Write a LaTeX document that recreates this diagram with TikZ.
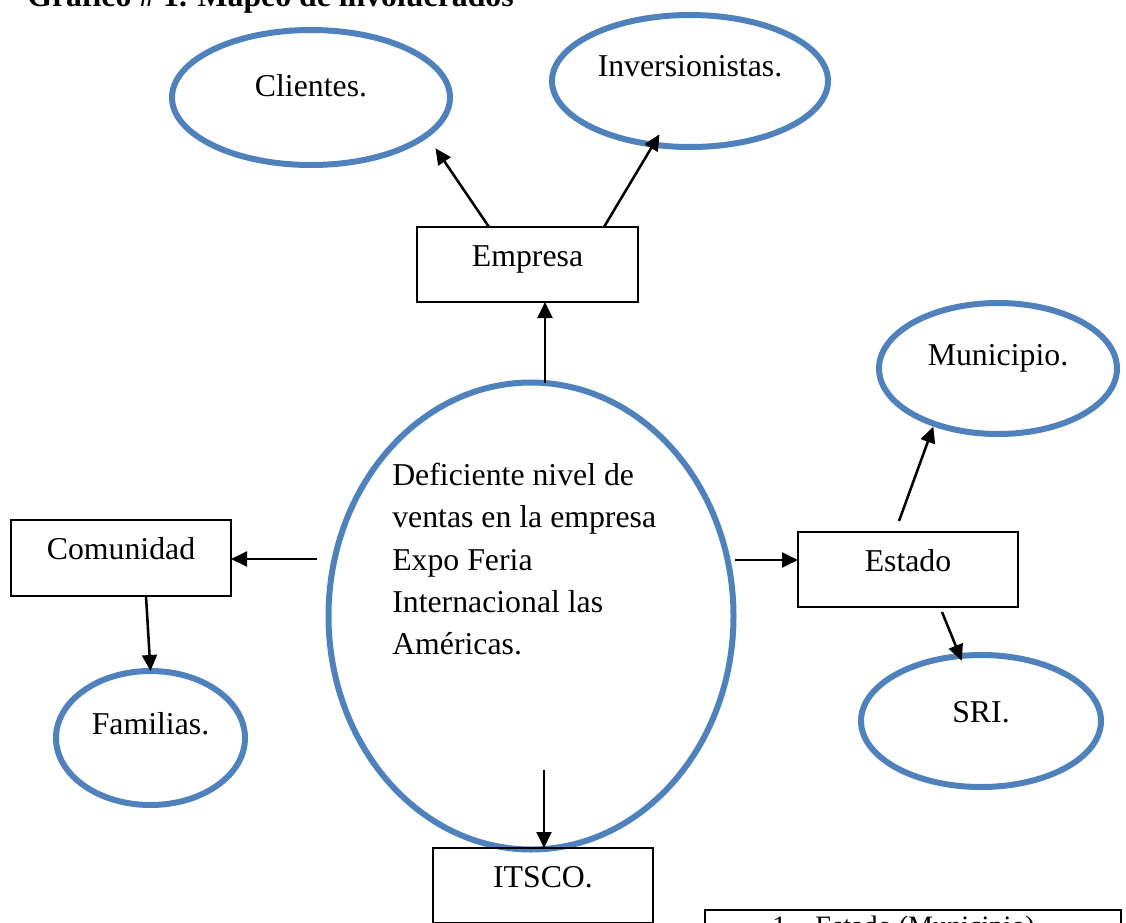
\documentclass[tikz,border=0pt]{standalone}
\usepackage{fontspec}
\setmainfont{Liberation Serif}
\usetikzlibrary{shapes.geometric}
\usetikzlibrary{arrows.meta}
\newlength\pxu
\setlength\pxu{0.025cm}
\definecolor{azul}{HTML}{4F81BD}
\tikzset{>={Triangle[length=0.4cm, width=0.37cm]}}
\tikzset{oval/.style = {ellipse, draw=azul, line width=6*\pxu, inner sep=0pt, outer sep=0pt}}
\tikzset{caja/.style = {rectangle, draw, line width=1.4pt, outer sep=0pt, minimum width=220*\pxu, minimum height=75*\pxu, text height=0.7em, text depth=0.42em}}
\tikzset{flecha/.style = {->, line width=1.8pt}}

\begin{document}
\begin{tikzpicture}[x=0.025cm, y=-0.025cm, font=\fontsize{22.6}{30}\selectfont]
\useasboundingbox (0,0) rectangle (1126,922);
\clip (0,0) rectangle (1126,922);
% titulo
\node [anchor=base west, inner sep=0, font=\fontsize{22.6}{30}\selectfont\bfseries] (titulo) at (27,6) {Gráfico \# 1. Mapeo de involucrados};
% problema central
\node [oval, minimum width=405*\pxu, minimum height=467*\pxu] (prob) at (531,616) {};
\node [anchor=north west, align=left, inner sep=0] (probtxt) at (392,463) {Deficiente nivel de\\ventas en la empresa\\Expo Feria\\Internacional las\\Américas.};
% involucrados
\node [caja, minimum width=221*\pxu] (emp) at (527.5,264.5) {Empresa};
\node [caja, minimum height=76*\pxu] (com) at (121,558) {Comunidad};
\node [caja] (est) at (908,569.5) {Estado};
\node [caja] (its) at (543,885.5) {ITSCO.};
\node [oval, minimum width=278*\pxu, minimum height=135*\pxu, label={[yshift=11.5*\pxu]center:Clientes.}] (cli) at (311,97.5) {};
\node [oval, minimum width=276*\pxu, minimum height=132*\pxu, label={[yshift=14.5*\pxu]center:Inversionistas.}] (inv) at (690,81) {};
\node [oval, minimum width=238*\pxu, minimum height=131*\pxu, label={[yshift=10.5*\pxu]center:Municipio.}] (mun) at (998,368.5) {};
\node [oval, minimum width=240*\pxu, minimum height=132*\pxu, label={[yshift=9*\pxu]center:SRI.}] (sri) at (981,721) {};
\node [oval, minimum width=189*\pxu, minimum height=134*\pxu, label={[yshift=14*\pxu]center:Familias.}] (fam) at (150.5,738) {};
% flechas
\coordinate (c-cli) at (489,227);
\draw [flecha, shorten >=16*\pxu] (c-cli) -- (cli.-18.4);
\coordinate (c-inv) at (604,227);
\draw [flecha, shorten >=-12*\pxu] (c-inv) -- (inv.-120.7);
\coordinate (c-emp) at (545,383);
\draw [flecha] (c-emp) -- (c-emp |- emp.south);
\coordinate (c-com) at (317,559);
\draw [flecha] (c-com) -- (c-com -| com.east);
\coordinate (c-fam) at (146,596);
\draw [flecha] (c-fam) -- (fam.north);
\coordinate (c-est) at (735,560);
\draw [flecha] (c-est) -- (c-est -| est.west);
\coordinate (c-mun) at (899,521);
\draw [flecha, shorten >=3*\pxu] (c-mun) -- (mun.-139.4);
\coordinate (c-sri) at (942,612);
\draw [flecha, shorten >=-5*\pxu] (c-sri) -- (sri.108.7);
\coordinate (c-its) at (544,770);
\draw [flecha] (c-its) -- (c-its |- its.north);
% lista
\node [caja, anchor=north west, minimum width=416*\pxu, minimum height=150*\pxu] (lista) at (705,910) {};
\node [anchor=base west, inner sep=0, font=\fontsize{20}{24}\selectfont] (item1) at (772,935.5) {1.};
\node [anchor=base west, inner sep=0, font=\fontsize{20}{24}\selectfont] (item1txt) at (815,935.5) {Estado (Municipio)};
\end{tikzpicture}
\end{document}
